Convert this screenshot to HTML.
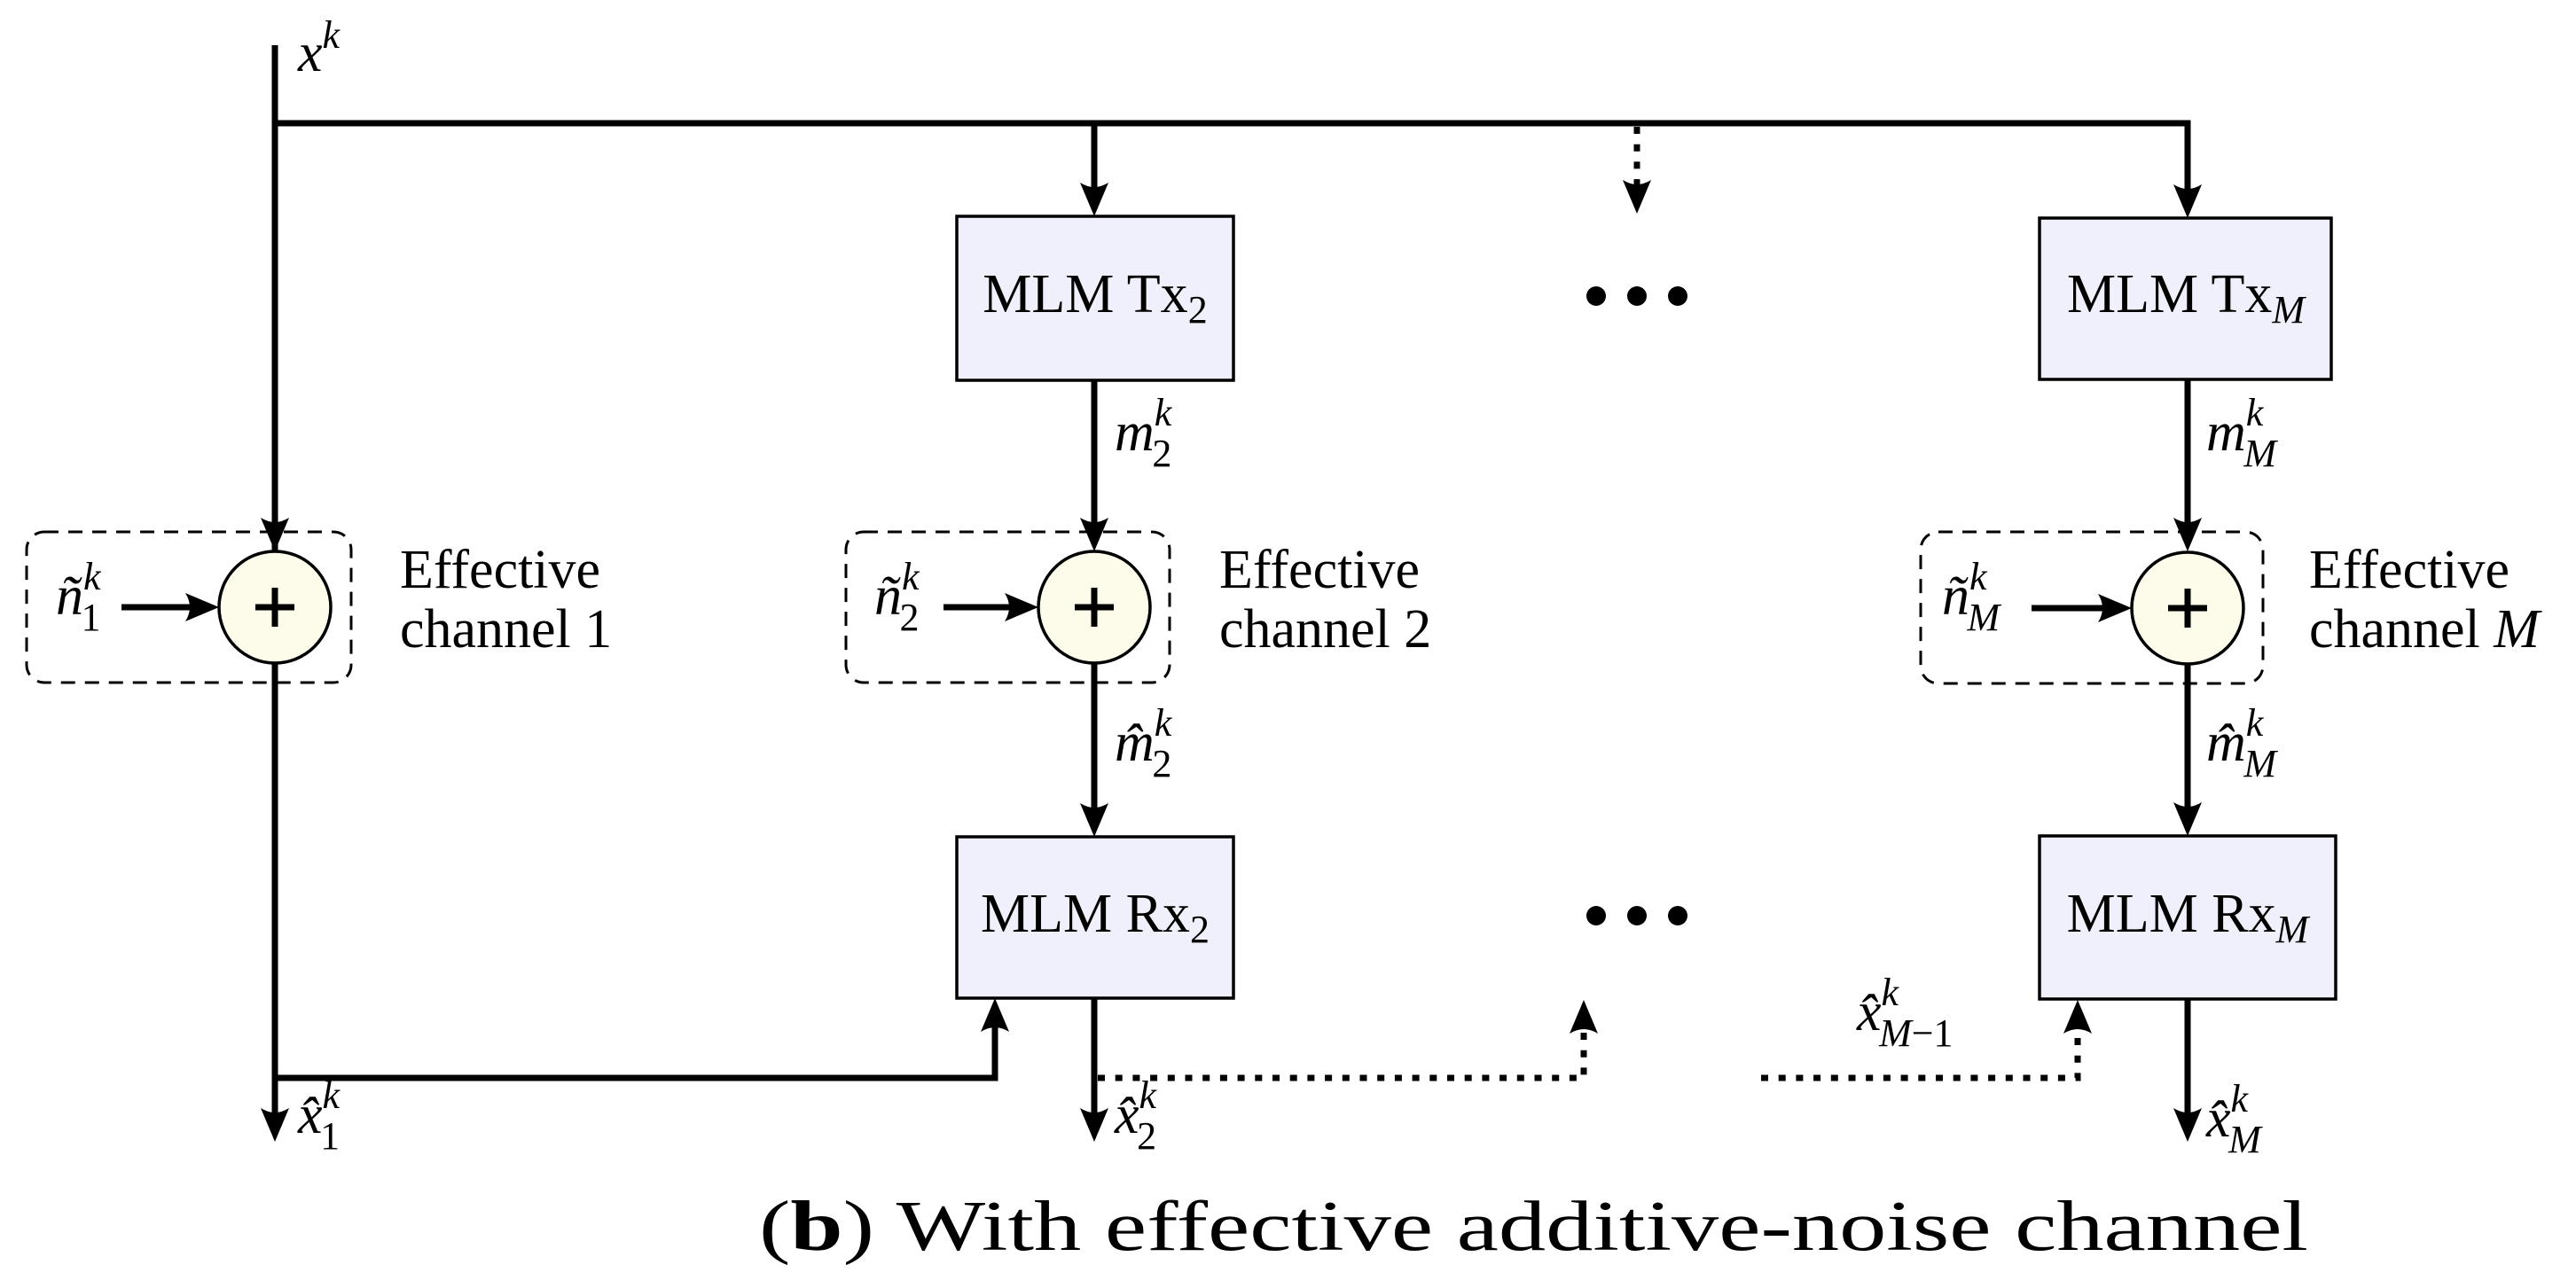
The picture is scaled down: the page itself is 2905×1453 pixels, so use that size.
<!DOCTYPE html>
<html><head><meta charset="utf-8"><style>
html,body{margin:0;padding:0;background:#fff;}
svg{display:block;}
text{font-family:"Liberation Serif",serif;fill:#000;}
</style></head><body>
<svg width="2905" height="1453" viewBox="0 0 2905 1453" xmlns="http://www.w3.org/2000/svg">
<g stroke="#000" stroke-width="7" fill="none">
<path d="M310,51 V1266"/>
<path d="M310,139 H2467 V226"/>
<path d="M1234,139 V224"/>
<path d="M1234,429 V602"/>
<path d="M1234,749 V924"/>
<path d="M1234,1126 V1266"/>
<path d="M2467,428 V602"/>
<path d="M2467,749 V923"/>
<path d="M2467,1127 V1266"/>
<path d="M310,1216 H1122 V1146"/>
<path d="M137,685 H227"/>
<path d="M1064,685 H1151"/>
<path d="M2291,686 H2384"/>
<g stroke-dasharray="8 11.7">
<path d="M1846,143 V222"/>
<path d="M1238,1216 H1786 V1162"/>
<path d="M1986,1216 H2343 V1162"/>
</g>
</g>
<g fill="#000">
<!-- down arrows -->
<path d="M310,622 l-16,-38 q16,10 32,0 z"/>
<path d="M1234,244 l-16,-38 q16,10 32,0 z"/>
<path d="M1234,622 l-16,-38 q16,10 32,0 z"/>
<path d="M1234,944 l-16,-38 q16,10 32,0 z"/>
<path d="M1234,1288 l-16,-38 q16,10 32,0 z"/>
<path d="M310,1288 l-16,-38 q16,10 32,0 z"/>
<path d="M2467,246 l-16,-38 q16,10 32,0 z"/>
<path d="M2467,622 l-16,-38 q16,10 32,0 z"/>
<path d="M2467,943 l-16,-38 q16,10 32,0 z"/>
<path d="M2467,1288 l-16,-38 q16,10 32,0 z"/>
<path d="M1846,241 l-16,-38 q16,10 32,0 z"/>
<!-- up arrows -->
<path d="M1122,1126 l-16,38 q16,-10 32,0 z"/>
<path d="M1786,1128 l-16,38 q16,-10 32,0 z"/>
<path d="M2343,1128 l-16,38 q16,-10 32,0 z"/>
<!-- right arrows -->
<path d="M247,685 l-38,-16 q10,16 0,32 z"/>
<path d="M1171,685 l-38,-16 q10,16 0,32 z"/>
<path d="M2404,686 l-38,-16 q10,16 0,32 z"/>
<circle cx="1800" cy="334" r="11"/><circle cx="1846" cy="334" r="11"/><circle cx="1892" cy="334" r="11"/>
<circle cx="1800" cy="1033" r="11"/><circle cx="1846" cy="1033" r="11"/><circle cx="1892" cy="1033" r="11"/>
</g>
<g stroke="#000" stroke-width="3.5" fill="#f0f0fc">
<rect x="1079" y="244" width="312" height="185"/>
<rect x="1079" y="944" width="312" height="182"/>
<rect x="2300" y="246" width="329" height="182"/>
<rect x="2300" y="943" width="334" height="184"/>
</g>
<g stroke="#000" stroke-width="3" fill="none" stroke-dasharray="16 11">
<rect x="30" y="600" width="366" height="170" rx="20"/>
<rect x="954" y="600" width="365" height="170" rx="20"/>
<rect x="2166" y="600" width="386" height="171" rx="20"/>
</g>
<g stroke="#000" stroke-width="3.5" fill="#fdfbea">
<circle cx="310" cy="685" r="63"/>
<circle cx="1234" cy="685" r="63"/>
<circle cx="2467" cy="686" r="63"/>
</g>
<g stroke="#000" stroke-width="7">
<path d="M288,685 H332 M310,663 V707"/>
<path d="M1212,685 H1256 M1234,663 V707"/>
<path d="M2445,686 H2489 M2467,664 V708"/>
</g>
<g font-size="62">
<text x="1235" y="352" text-anchor="middle">MLM Tx<tspan font-size="44" dy="12">2</tspan></text>
<text x="1235" y="1051" text-anchor="middle">MLM Rx<tspan font-size="44" dy="12">2</tspan></text>
<text x="2465" y="352" text-anchor="middle">MLM Tx<tspan font-size="44" dy="12" font-style="italic">M</tspan></text>
<text x="2467" y="1051" text-anchor="middle">MLM Rx<tspan font-size="44" dy="12" font-style="italic">M</tspan></text>
<text x="451" y="663">Effective</text>
<text x="451" y="730">channel 1</text>
<text x="1375" y="663">Effective</text>
<text x="1375" y="730">channel 2</text>
<text x="2604" y="663">Effective</text>
<text x="2604" y="730">channel <tspan font-style="italic">M</tspan></text>
</g>
<g font-size="62" font-style="italic">
<text x="336" y="80">x<tspan font-size="44" dy="-26">k</tspan></text>
<text x="1257" y="508">m<tspan font-size="44" dy="-28">k</tspan><tspan font-size="44" dx="-22" dy="46" font-style="normal">2</tspan></text>
<text x="1257" y="858">m̂<tspan font-size="44" dy="-28">k</tspan><tspan font-size="44" dx="-22" dy="46" font-style="normal">2</tspan></text>
<text x="2488" y="508">m<tspan font-size="44" dy="-28">k</tspan><tspan font-size="44" dx="-22" dy="46">M</tspan></text>
<text x="2488" y="858">m̂<tspan font-size="44" dy="-28">k</tspan><tspan font-size="44" dx="-22" dy="46">M</tspan></text>
<text x="63" y="693">ñ<tspan font-size="44" dy="-28">k</tspan><tspan font-size="44" dx="-22" dy="46" font-style="normal">1</tspan></text>
<text x="986" y="693">ñ<tspan font-size="44" dy="-28">k</tspan><tspan font-size="44" dx="-22" dy="46" font-style="normal">2</tspan></text>
<text x="2190" y="693">ñ<tspan font-size="44" dy="-28">k</tspan><tspan font-size="44" dx="-22" dy="46">M</tspan></text>
<text x="336" y="1278">x̂<tspan font-size="44" dy="-28">k</tspan><tspan font-size="44" dx="-22" dy="46" font-style="normal">1</tspan></text>
<text x="1257" y="1278">x̂<tspan font-size="44" dy="-28">k</tspan><tspan font-size="44" dx="-22" dy="46" font-style="normal">2</tspan></text>
<text x="2488" y="1282">x̂<tspan font-size="44" dy="-28">k</tspan><tspan font-size="44" dx="-22" dy="46">M</tspan></text>
<text x="2094" y="1162">x̂<tspan font-size="44" dy="-28">k</tspan><tspan font-size="44" dx="-22" dy="46">M</tspan><tspan font-size="44" font-style="normal">−1</tspan></text>
</g>
<text x="856" y="1410" font-size="80" textLength="1747" lengthAdjust="spacingAndGlyphs">(<tspan font-weight="bold">b</tspan>) With effective additive-noise channel</text>
</svg>
</body></html>
